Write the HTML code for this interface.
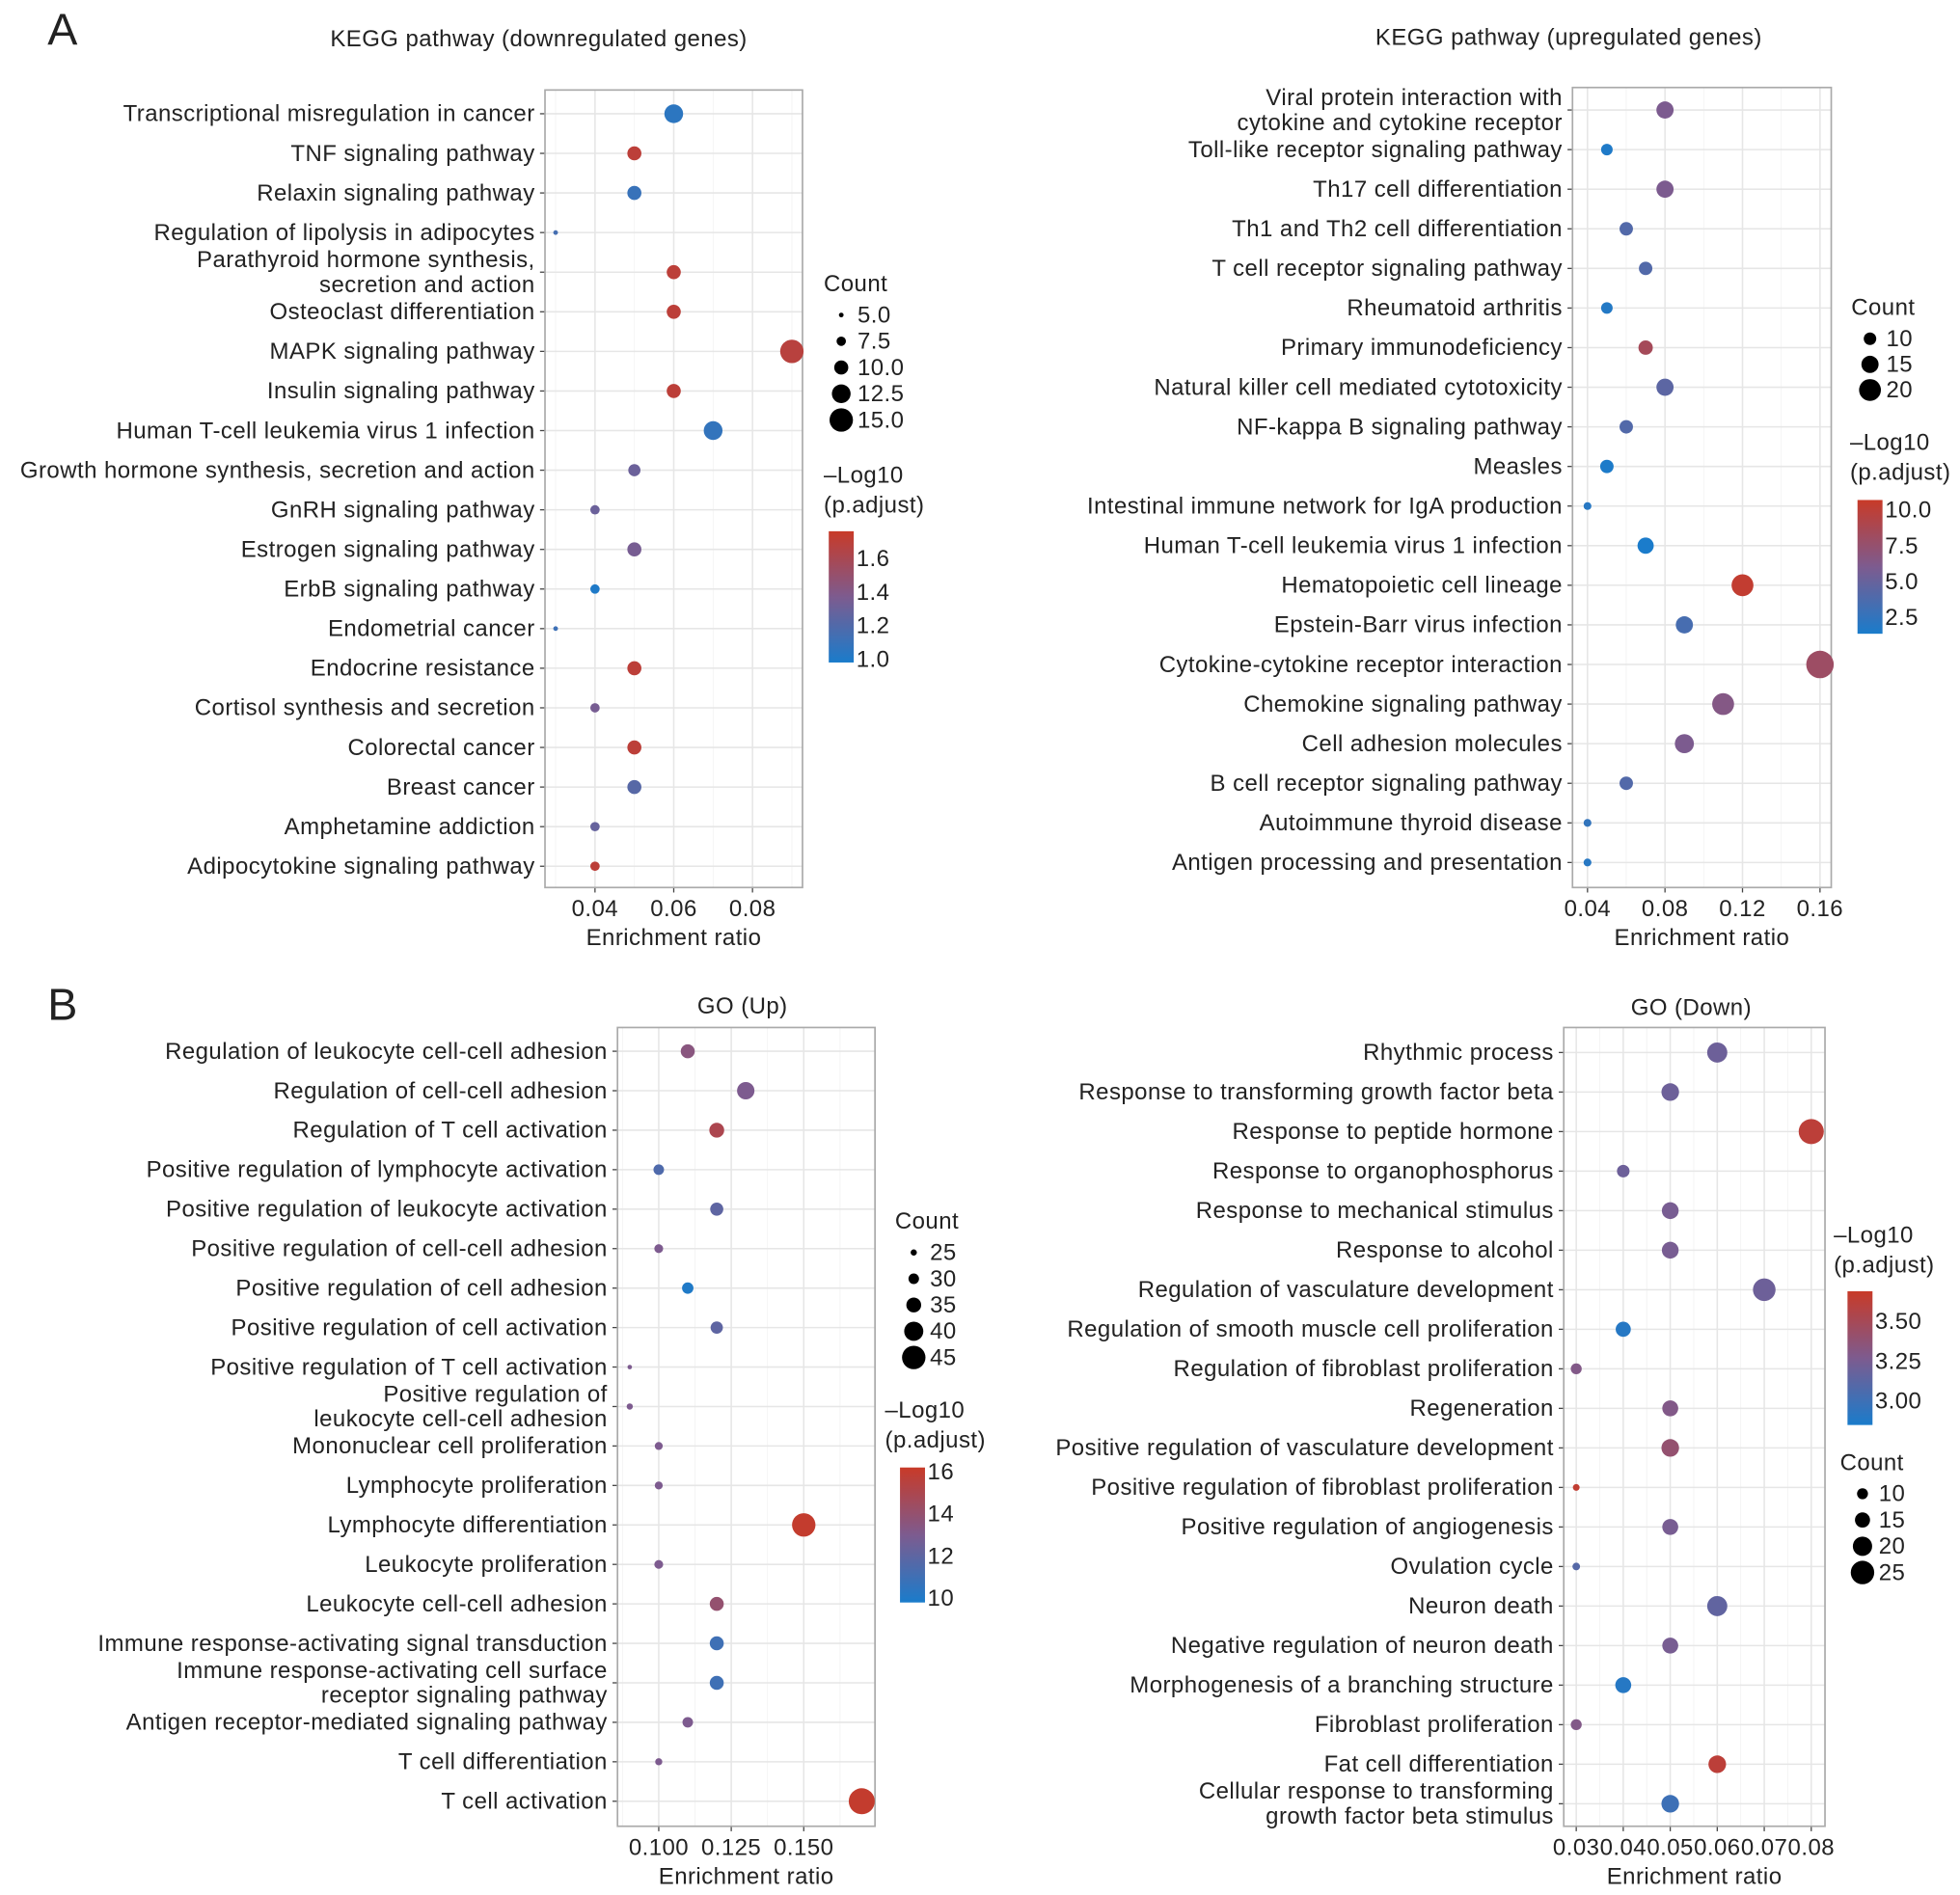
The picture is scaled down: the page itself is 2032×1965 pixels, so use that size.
<!DOCTYPE html>
<html><head><meta charset="utf-8"><style>
html,body{margin:0;padding:0;background:#fff;}
svg{display:block;}
text{font-family:"Liberation Sans",Arial,sans-serif;fill:#222;letter-spacing:0.35px;}
</style></head><body>
<svg id="fig" width="2032" height="1965" viewBox="0 0 1568 1516" preserveAspectRatio="none" xmlns="http://www.w3.org/2000/svg">
<text x="38" y="36" font-size="36">A</text>
<text x="38" y="816" font-size="36">B</text>
</svg>
<script>
// ---- Panel A left: KEGG downregulated ----
const kdLabels=["Transcriptional misregulation in cancer","TNF signaling pathway","Relaxin signaling pathway","Regulation of lipolysis in adipocytes","Parathyroid hormone synthesis,|secretion and action","Osteoclast differentiation","MAPK signaling pathway","Insulin signaling pathway","Human T-cell leukemia virus 1 infection","Growth hormone synthesis, secretion and action","GnRH signaling pathway","Estrogen signaling pathway","ErbB signaling pathway","Endometrial cancer","Endocrine resistance","Cortisol synthesis and secretion","Colorectal cancer","Breast cancer","Amphetamine addiction","Adipocytokine signaling pathway"];
const kdRatio=[0.06,0.05,0.05,0.03,0.06,0.06,0.09,0.06,0.07,0.05,0.04,0.05,0.04,0.03,0.05,0.04,0.05,0.05,0.04,0.04];
const kdCount=[12.5,10,10,5,10,10,15,10,12.5,9,7.5,10,7.5,5,10,7.5,10,10,7.5,7.5];
const kdPadj=[1.05,1.7,1.1,1.15,1.7,1.7,1.68,1.7,1.08,1.3,1.3,1.35,1.0,1.12,1.7,1.35,1.7,1.22,1.28,1.7];
const kdXTicks=[0.04,0.06,0.08];
const kdSizeLegend=[5.0,7.5,10.0,12.5,15.0];
const kdColorTicks=[1.0,1.2,1.4,1.6];

// ---- Panel A right: KEGG upregulated ----
const kuLabels=["Viral protein interaction with|cytokine and cytokine receptor","Toll-like receptor signaling pathway","Th17 cell differentiation","Th1 and Th2 cell differentiation","T cell receptor signaling pathway","Rheumatoid arthritis","Primary immunodeficiency","Natural killer cell mediated cytotoxicity","NF-kappa B signaling pathway","Measles","Intestinal immune network for IgA production","Human T-cell leukemia virus 1 infection","Hematopoietic cell lineage","Epstein-Barr virus infection","Cytokine-cytokine receptor interaction","Chemokine signaling pathway","Cell adhesion molecules","B cell receptor signaling pathway","Autoimmune thyroid disease","Antigen processing and presentation"];
const kuRatio=[0.08,0.05,0.08,0.06,0.07,0.05,0.07,0.08,0.06,0.05,0.04,0.07,0.12,0.09,0.16,0.11,0.09,0.06,0.04,0.04];
const kuCount=[15,9,15,11,11,9,12,15,11,11,5,14,20,15,26,20,17,11,5,5];
const kuPadj=[6,1.6,6,4,4,1.8,8.5,4.5,4,1.5,2,1.4,10.3,3.5,8,6.5,6,4,2.5,2];
const kuXTicks=[0.04,0.08,0.12,0.16];
const kuSizeLegend=[10,15,20];
const kuColorTicks=[2.5,5.0,7.5,10.0];

// ---- Panel B left: GO Up ----
const guLabels=["Regulation of leukocyte cell-cell adhesion","Regulation of cell-cell adhesion","Regulation of T cell activation","Positive regulation of lymphocyte activation","Positive regulation of leukocyte activation","Positive regulation of cell-cell adhesion","Positive regulation of cell adhesion","Positive regulation of cell activation","Positive regulation of T cell activation","Positive regulation of|leukocyte cell-cell adhesion","Mononuclear cell proliferation","Lymphocyte proliferation","Lymphocyte differentiation","Leukocyte proliferation","Leukocyte cell-cell adhesion","Immune response-activating signal transduction","Immune response-activating cell surface|receptor signaling pathway","Antigen receptor-mediated signaling pathway","T cell differentiation","T cell activation"];
const guRatio=[0.11,0.13,0.12,0.10,0.12,0.10,0.11,0.12,0.09,0.09,0.10,0.10,0.15,0.10,0.12,0.12,0.12,0.11,0.10,0.17];
const guCount=[34,38,35,30,33,28,31,32,23,25,27,27,45,28,34,34,34,30,26,48];
const guPadj=[13.5,13,15,11.5,12,13,10,12,13,13,13,13,16,13,14,11,11,13,13,16];
const guXTicks=[0.100,0.125,0.150];
const guSizeLegend=[25,30,35,40,45];
const guColorTicks=[10,12,14,16];

// ---- Panel B right: GO Down ----
const gdLabels=["Rhythmic process","Response to transforming growth factor beta","Response to peptide hormone","Response to organophosphorus","Response to mechanical stimulus","Response to alcohol","Regulation of vasculature development","Regulation of smooth muscle cell proliferation","Regulation of fibroblast proliferation","Regeneration","Positive regulation of vasculature development","Positive regulation of fibroblast proliferation","Positive regulation of angiogenesis","Ovulation cycle","Neuron death","Negative regulation of neuron death","Morphogenesis of a branching structure","Fibroblast proliferation","Fat cell differentiation","Cellular response to transforming|growth factor beta stimulus"];
const gdRatio=[0.06,0.05,0.08,0.04,0.05,0.05,0.07,0.04,0.03,0.05,0.05,0.03,0.05,0.03,0.06,0.05,0.04,0.03,0.06,0.05];
const gdCount=[21,18,27,12,17,17,24,15,10,16,18,5,16,6,21,16,16,10,18,18];
const gdPadj=[3.2,3.2,3.62,3.2,3.25,3.25,3.2,2.9,3.3,3.3,3.4,3.65,3.25,3.1,3.15,3.25,2.9,3.3,3.62,3.0];
const gdXTicks=[0.03,0.04,0.05,0.06,0.07,0.08];
const gdSizeLegend=[10,15,20,25];
const gdColorTicks=[3.00,3.25,3.50];

const NS="http://www.w3.org/2000/svg";
const svg=document.getElementById('fig');
const FS=18.5;
const SR=1.25;
function mk(tag,attrs,parent){const e=document.createElementNS(NS,tag);for(const k in attrs)e.setAttribute(k,attrs[k]);(parent||svg).appendChild(e);return e;}
function lerp(a,b,t){return a+(b-a)*t;}
function hex(c){return [parseInt(c.slice(1,3),16),parseInt(c.slice(3,5),16),parseInt(c.slice(5,7),16)];}
const CL=hex('#1a7ccb'),CM=hex('#7d5b8f'),CH=hex('#c83a28');
function colorAt(t){t=Math.max(0,Math.min(1,t));let a,b,u;if(t<0.5){a=CL;b=CM;u=t*2;}else{a=CM;b=CH;u=(t-0.5)*2;}return 'rgb('+[0,1,2].map(i=>Math.round(lerp(a[i],b[i],u))).join(',')+')';}

function panel(cfg){
  const g=mk('g',{});
  
  
  const {x0,x1,y0,y1}=cfg.box;
  const xs=v=>cfg.px0+(v-cfg.v0)*(cfg.px1-cfg.px0)/(cfg.v1-cfg.v0);
  const n=cfg.labels.length;
  const ys=i=>cfg.rowTop+i*(cfg.rowBot-cfg.rowTop)/(n-1);
  const rs=c=>SR*Math.max(1.2,cfg.ra+cfg.rb*c);
  const cs=p=>colorAt((p-cfg.c0)/(cfg.c1-cfg.c0));
  const bg=mk('rect',{x:x0,y:y0,width:x1-x0,height:y1-y0,fill:'#fff'},g);
  
  const step=cfg.xTicks[1]-cfg.xTicks[0];
  for(let v=cfg.xTicks[0]-step*4;v<=cfg.v1+step;v+=step/2){const px=xs(v);if(px>x0&&px<x1)mk('line',{x1:px,x2:px,y1:y0,y2:y1,stroke:'#f3f3f3','stroke-width':0.7},g);}
  cfg.xTicks.forEach(v=>{const px=xs(v);mk('line',{x1:px,x2:px,y1:y0,y2:y1,stroke:'#e6e6e6','stroke-width':1.2},g);
    mk('line',{x1:px,x2:px,y1:y1,y2:y1+4,stroke:'#444','stroke-width':1},g);
    const t=mk('text',{x:px,y:y1+23,'font-size':FS,'text-anchor':'middle',fill:'#333'},g);t.textContent=cfg.fmt(v);
    });
  cfg.labels.forEach((lab,i)=>{const py=ys(i);
    mk('line',{x1:x0,x2:x1,y1:py,y2:py,stroke:'#e6e6e6','stroke-width':1.2},g);
    mk('line',{x1:x0-4,x2:x0,y1:py,y2:py,stroke:'#444','stroke-width':1},g);
    const parts=lab.split('|');
    parts.forEach((p,j)=>{const yy=py+6+(parts.length>1?(j===0?-10:10):0);
      const t=mk('text',{x:x0-8,y:yy,'font-size':FS,'text-anchor':'end'},g);t.textContent=p;
      });
  });
  const br=mk('rect',{x:x0,y:y0,width:x1-x0,height:y1-y0,fill:'none',stroke:'#aaa','stroke-width':1.3},g);
  
  cfg.labels.forEach((lab,i)=>{
    const c=mk('circle',{cx:xs(cfg.ratio[i]),cy:ys(i),r:rs(cfg.count[i]),fill:cs(cfg.padj[i])},g);
    
    
  });
  const tt=mk('text',{x:cfg.titleX,y:cfg.titleY,'font-size':FS,'text-anchor':'middle'},g);tt.textContent=cfg.title;
  
  const xt=mk('text',{x:(x0+x1)/2,y:y1+46,'font-size':FS,'text-anchor':'middle'},g);xt.textContent='Enrichment ratio';
  
  const sl=cfg.sizeLeg;
  const st=mk('text',{x:sl.x,y:sl.y,'font-size':FS},g);st.textContent='Count';
  
  cfg.sizeLegend.forEach((v,i)=>{const yy=sl.y+25+i*sl.dy;
    const c=mk('circle',{cx:sl.dotX,cy:yy-6,r:rs(v),fill:'#000'},g);
    
    const t=mk('text',{x:sl.dotX+13,y:yy,'font-size':FS},g);t.textContent=cfg.sizeFmt(v);
    });
  const cl=cfg.colLeg;
  const t1=mk('text',{x:cl.x,y:cl.y,'font-size':FS},g);t1.textContent='\u2013Log10';
  const t2=mk('text',{x:cl.x,y:cl.y+24,'font-size':FS},g);t2.textContent='(p.adjust)';
  
  
  const gid='grad'+cfg.name;
  const defs=mk('defs',{},g);const lg=mk('linearGradient',{id:gid,x1:0,y1:1,x2:0,y2:0},defs);
  for(let k=0;k<=10;k++)mk('stop',{offset:k/10,'stop-color':colorAt(k/10)},lg);
  const cb=mk('rect',{x:cl.bx,y:cl.by0,width:20,height:cl.by1-cl.by0,fill:'url(#'+gid+')'},g);
  
  const cy=p=>cl.by1-(p-cfg.c0)/(cfg.c1-cfg.c0)*(cl.by1-cl.by0);
  cfg.colorTicks.forEach(v=>{const yy=cy(v);
    const t=mk('text',{x:cl.bx+22,y:yy+6,'font-size':FS},g);t.textContent=cfg.colFmt(v);
    });
}

panel({name:'kegg-down-panel',title:'KEGG pathway (downregulated genes)',titleX:431,titleY:37,
  box:{x0:436,x1:642,y0:72,y1:710},px0:476,px1:602,v0:0.04,v1:0.08,rowTop:91,rowBot:693,
  labels:kdLabels,ratio:kdRatio,count:kdCount,padj:kdPadj,xTicks:kdXTicks,sizeLegend:kdSizeLegend,colorTicks:kdColorTicks,
  ra:-1.5,rb:0.6,c0:0.98,c1:1.765,fmt:v=>v.toFixed(2),sizeFmt:v=>v.toFixed(1),colFmt:v=>v.toFixed(1),
  sizeLeg:{x:659,y:233,dy:21,dotX:673},colLeg:{x:659,y:386,bx:663,by0:425,by1:530}});
panel({name:'kegg-up-panel',title:'KEGG pathway (upregulated genes)',titleX:1255,titleY:36,
  box:{x0:1258,x1:1465,y0:70,y1:710},px0:1270,px1:1456,v0:0.04,v1:0.16,rowTop:88,rowBot:690,
  labels:kuLabels,ratio:kuRatio,count:kuCount,padj:kuPadj,xTicks:kuXTicks,sizeLegend:kuSizeLegend,colorTicks:kuColorTicks,
  ra:1,rb:0.3,c0:1.37,c1:10.7,fmt:v=>v.toFixed(2),sizeFmt:v=>String(v),colFmt:v=>v.toFixed(1),
  sizeLeg:{x:1481,y:252,dy:20.5,dotX:1496},colLeg:{x:1480,y:360,bx:1486,by0:400,by1:507}});
panel({name:'go-up-panel',title:'GO (Up)',titleX:594,titleY:811,
  box:{x0:494,x1:700,y0:822,y1:1461},px0:527,px1:643,v0:0.100,v1:0.150,rowTop:841,rowBot:1441,
  labels:guLabels,ratio:guRatio,count:guCount,padj:guPadj,xTicks:guXTicks,sizeLegend:guSizeLegend,colorTicks:guColorTicks,
  ra:-4.875,rb:0.275,c0:9.8,c1:16.2,fmt:v=>v.toFixed(3),sizeFmt:v=>String(v),colFmt:v=>String(v),
  sizeLeg:{x:716,y:983,dy:21,dotX:731},colLeg:{x:708,y:1134,bx:720,by0:1174,by1:1282}});
panel({name:'go-down-panel',title:'GO (Down)',titleX:1353,titleY:812,
  box:{x0:1251,x1:1460,y0:822,y1:1461},px0:1261,px1:1449,v0:0.03,v1:0.08,rowTop:842,rowBot:1443,
  labels:gdLabels,ratio:gdRatio,count:gdCount,padj:gdPadj,xTicks:gdXTicks,sizeLegend:gdSizeLegend,colorTicks:gdColorTicks,
  ra:0.833,rb:0.267,c0:2.85,c1:3.69,fmt:v=>v.toFixed(2),sizeFmt:v=>String(v),colFmt:v=>v.toFixed(2),
  sizeLeg:{x:1472,y:1176,dy:21,dotX:1490},colLeg:{x:1467,y:994,bx:1478,by0:1033,by1:1140}});
</script>
</body></html>
